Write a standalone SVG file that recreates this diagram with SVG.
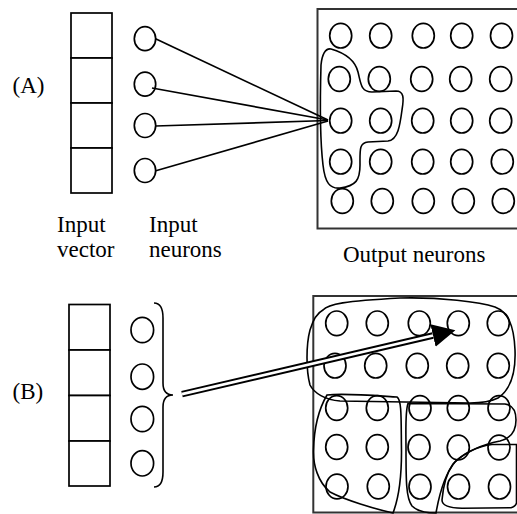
<svg xmlns="http://www.w3.org/2000/svg" width="517" height="514" viewBox="0 0 517 514">
<style>
.bg{fill:#fff}
.cell{fill:#fff;stroke:#000;stroke-width:1.7}
.n{fill:#fff;stroke:#000;stroke-width:1.7}
.frame{fill:none;stroke:#333;stroke-width:2}
.blob{fill:none;stroke:#000;stroke-width:1.6}
.con{fill:none;stroke:#000;stroke-width:1.7}
.lbl{font-family:"Liberation Serif","Times New Roman",serif;font-size:23px;fill:#000}
</style>
<defs>
<marker id="head" markerUnits="userSpaceOnUse" markerWidth="26" markerHeight="26" viewBox="0 -13 26 26" refX="0" refY="0" orient="auto">
<path d="M0,-11.5 L23,0 L0,11.5 Z" fill="#000"/>
</marker>
</defs>
<rect class="bg" x="0" y="0" width="517" height="514"/>

<text class="lbl" x="12.5" y="93">(A)</text>
<text class="lbl" x="12.5" y="399">(B)</text>

<g id="input-vector-a">
<rect class="cell" x="71" y="13" width="41" height="45"/>
<rect class="cell" x="71" y="58" width="41" height="45"/>
<rect class="cell" x="71" y="103" width="41" height="45"/>
<rect class="cell" x="71" y="148" width="41" height="45"/>
</g>
<g id="input-neurons-a">
<ellipse class="n" cx="145" cy="38.7" rx="10.7" ry="12"/>
<ellipse class="n" cx="145" cy="84.2" rx="10.7" ry="12"/>
<ellipse class="n" cx="145" cy="125.5" rx="10.7" ry="12"/>
<ellipse class="n" cx="145" cy="170.5" rx="10.7" ry="12"/>
</g>
<g id="labels-a">
<text class="lbl" x="57" y="232">Input</text>
<text class="lbl" x="57" y="257">vector</text>
<text class="lbl" x="149" y="232">Input</text>
<text class="lbl" x="149" y="257">neurons</text>
<text class="lbl" x="343" y="262">Output neurons</text>
</g>
<g id="output-grid-a">
<rect class="frame" x="317.5" y="9" width="210" height="219.5"/>
<g>
<ellipse class="n" cx="340.7" cy="35.7" rx="11" ry="12.3"/>
<ellipse class="n" cx="380.7" cy="35.7" rx="11" ry="12.3"/>
<ellipse class="n" cx="423.3" cy="35.7" rx="11" ry="12.3"/>
<ellipse class="n" cx="461.7" cy="35.7" rx="11" ry="12.3"/>
<ellipse class="n" cx="501.5" cy="35.7" rx="11" ry="12.3"/>
<ellipse class="n" cx="339.3" cy="79" rx="11" ry="12.3"/>
<ellipse class="n" cx="379.3" cy="79" rx="11" ry="12.3"/>
<ellipse class="n" cx="421.7" cy="79" rx="11" ry="12.3"/>
<ellipse class="n" cx="460.7" cy="79" rx="11" ry="12.3"/>
<ellipse class="n" cx="500.7" cy="79" rx="11" ry="12.3"/>
<ellipse class="n" cx="340.7" cy="120.7" rx="11" ry="12.3"/>
<ellipse class="n" cx="380.7" cy="120.7" rx="11" ry="12.3"/>
<ellipse class="n" cx="422.7" cy="120.7" rx="11" ry="12.3"/>
<ellipse class="n" cx="461.7" cy="120.7" rx="11" ry="12.3"/>
<ellipse class="n" cx="500.7" cy="120.7" rx="11" ry="12.3"/>
<ellipse class="n" cx="340.7" cy="161.7" rx="11" ry="12.3"/>
<ellipse class="n" cx="380.7" cy="161.7" rx="11" ry="12.3"/>
<ellipse class="n" cx="422.7" cy="161.7" rx="11" ry="12.3"/>
<ellipse class="n" cx="461.7" cy="161.7" rx="11" ry="12.3"/>
<ellipse class="n" cx="502.3" cy="161.7" rx="11" ry="12.3"/>
<ellipse class="n" cx="342.3" cy="201" rx="11" ry="12.3"/>
<ellipse class="n" cx="382.3" cy="201" rx="11" ry="12.3"/>
<ellipse class="n" cx="423.3" cy="201" rx="11" ry="12.3"/>
<ellipse class="n" cx="463.3" cy="201" rx="11" ry="12.3"/>
<ellipse class="n" cx="503.3" cy="201" rx="11" ry="12.3"/>
</g>
<path class="blob" d="M331,49 C345,53 355,60 358,72 C361,84 361,92 372,92 L396,91 C404,91 404,98 402,110 C400,125 398,140 388,141 L368,142 C359,143 360,150 360,165 C360,180 356,186 340,188 C330,189 325,183 323,165 C320,140 320,100 321,65 C322,55 325,48 331,49 Z"/>
</g>
<g id="connectors-a">
<line class="con" x1="155" y1="38.5" x2="328" y2="120"/>
<line class="con" x1="152" y1="88" x2="328" y2="120"/>
<line class="con" x1="155.5" y1="126" x2="328" y2="120.5"/>
<line class="con" x1="155" y1="171" x2="328" y2="121"/>
</g>

<g id="input-vector-b">
<rect class="cell" x="69" y="304.5" width="41" height="45.5"/>
<rect class="cell" x="69" y="350" width="41" height="45.5"/>
<rect class="cell" x="69" y="395.5" width="41" height="45.5"/>
<rect class="cell" x="69" y="441" width="41" height="45"/>
</g>
<g id="input-neurons-b">
<ellipse class="n" cx="142.3" cy="330" rx="11.3" ry="12.7"/>
<ellipse class="n" cx="142.3" cy="376.7" rx="11.3" ry="12.7"/>
<ellipse class="n" cx="142.3" cy="419" rx="11.3" ry="12.7"/>
<ellipse class="n" cx="142.3" cy="463.3" rx="11.3" ry="12.7"/>
<path class="blob" d="M154,303 C160,303 163,308 163,318 L163,383 C163,391 166,395 173,395 C166,395 163,399 163,407 L163,472 C163,482 160,487 154,487"/>
</g>
<g id="output-grid-b">
<rect class="frame" x="313.3" y="296" width="215" height="216.5"/>
<g>
<ellipse class="n" cx="336.7" cy="323.3" rx="11" ry="12.3"/>
<ellipse class="n" cx="377.3" cy="323.3" rx="11" ry="12.3"/>
<ellipse class="n" cx="419.3" cy="323.3" rx="11" ry="12.3"/>
<ellipse class="n" cx="458.3" cy="323.3" rx="11" ry="12.3"/>
<ellipse class="n" cx="498.3" cy="323.3" rx="11" ry="12.3"/>
<ellipse class="n" cx="335" cy="365.7" rx="11" ry="12.3"/>
<ellipse class="n" cx="375.7" cy="365.7" rx="11" ry="12.3"/>
<ellipse class="n" cx="417.3" cy="365.7" rx="11" ry="12.3"/>
<ellipse class="n" cx="457.7" cy="365.7" rx="11" ry="12.3"/>
<ellipse class="n" cx="498.3" cy="365.7" rx="11" ry="12.3"/>
<ellipse class="n" cx="336.7" cy="408" rx="11" ry="12.3"/>
<ellipse class="n" cx="377.3" cy="408" rx="11" ry="12.3"/>
<ellipse class="n" cx="420" cy="408" rx="11" ry="12.3"/>
<ellipse class="n" cx="458.3" cy="408" rx="11" ry="12.3"/>
<ellipse class="n" cx="499" cy="408" rx="11" ry="12.3"/>
<ellipse class="n" cx="336.7" cy="447" rx="11" ry="12.3"/>
<ellipse class="n" cx="377.3" cy="447" rx="11" ry="12.3"/>
<ellipse class="n" cx="419" cy="447" rx="11" ry="12.3"/>
<ellipse class="n" cx="458.3" cy="447.5" rx="11" ry="12.3"/>
<ellipse class="n" cx="499" cy="447.5" rx="11" ry="12.3"/>
<ellipse class="n" cx="337" cy="486.5" rx="11" ry="12.3"/>
<ellipse class="n" cx="378.3" cy="486.5" rx="11" ry="12.3"/>
<ellipse class="n" cx="420" cy="486.7" rx="11" ry="12.3"/>
<ellipse class="n" cx="458.5" cy="486.7" rx="11" ry="12.3"/>
<ellipse class="n" cx="499.5" cy="486.7" rx="11" ry="12.3"/>
</g>
<path class="blob" d="M323,310 C328,304 345,301 400,298 C440,297 480,302 495,307 C508,312 514,325 515,350 C516,375 510,390 498,398 C490,402 480,403 470,403 L340,401 C325,400 314,393 310,385 C306,370 306,345 310,330 C313,320 317,313 323,310 Z"/>
<path class="blob" d="M327,395 C345,393 380,396 397,397 C402,400 401,420 401.5,452 C401.5,480 398,500 393,513 C375,509 345,500 330,492 C318,482 313,465 313.5,450 C314,430 317,412 327,395 Z"/>
<path class="blob" d="M408,403.5 L505,404 C512,405 516,410 516,420 C516,430 512,438 500,441 C485,444 468,450 455,462 C445,474 440,490 436,513 C428,513 418,512 412,506 C406,498 406,480 406,450 C406,430 405,412 408,403.5 Z"/>
<path class="blob" d="M516.5,444.5 L492,444.5 C478,446 462,454 453,464 C446,474 443,488 442,500 C442,505 448,508 462,508.3 L511,507.7 C514,507 516,505 516.5,503 Z"/>
</g>
<g id="connectors-b">
<line x1="182" y1="394.2" x2="433" y2="335.5" stroke="#000" stroke-width="6.5" marker-end="url(#head)"/>
<line x1="182" y1="394.2" x2="433" y2="335.5" stroke="#fff" stroke-width="2.8"/>
</g>
</svg>
